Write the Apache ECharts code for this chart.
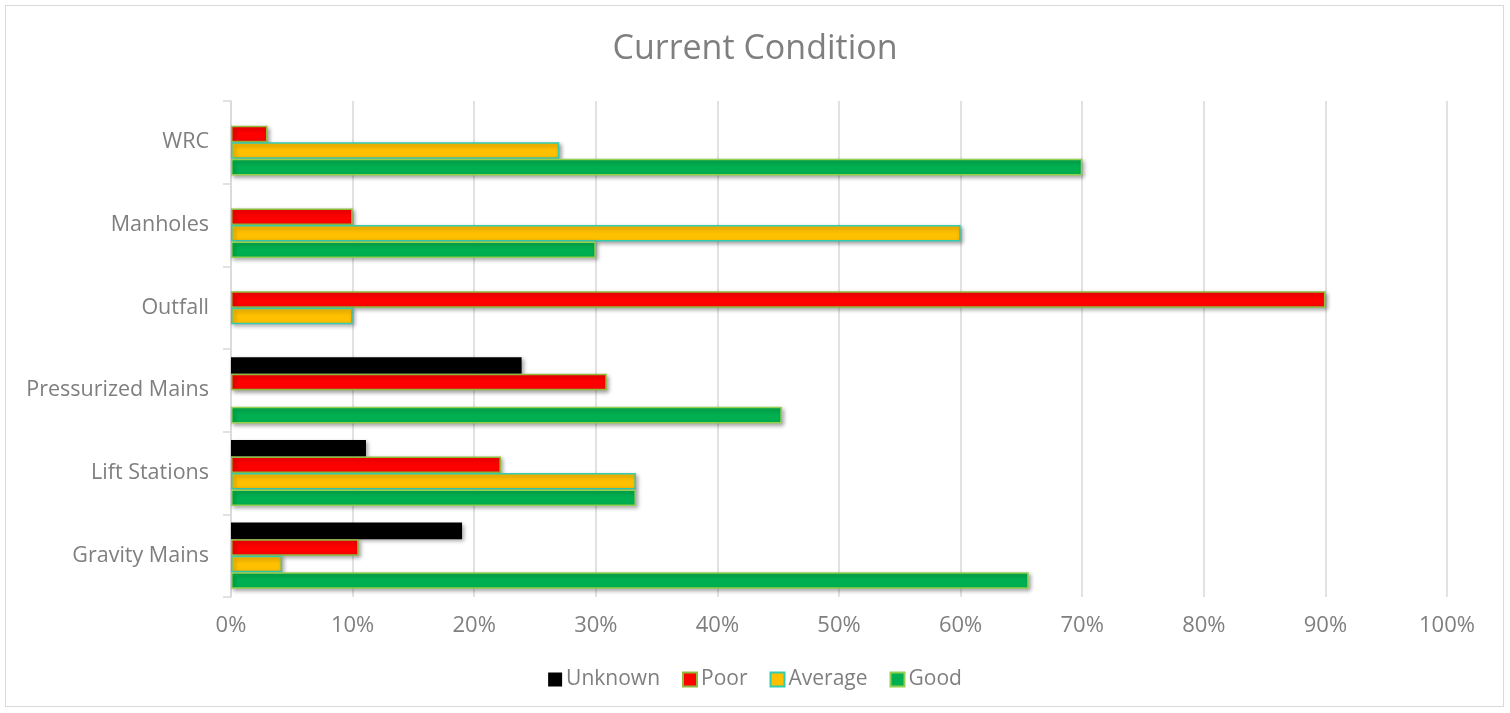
<!DOCTYPE html>
<html>
<head>
<meta charset="utf-8">
<script src="https://cdn.jsdelivr.net/npm/echarts@6/dist/echarts.min.js"></script>
<style>
html,body{margin:0;padding:0;background:#fff;}
#frame{position:absolute;left:5px;top:5px;width:1499px;height:702px;border:1.5px solid #d9d9d9;box-sizing:border-box;}
#chart{position:absolute;left:0;top:0;width:1510px;height:713px;}
</style>
</head>
<body>
<div id="frame"></div>
<div id="chart"></div>
<script>
const categories = ['Gravity Mains', 'Lift Stations', 'Pressurized Mains', 'Outfall', 'Manholes', 'WRC'];
const unknownValues = [19.0, 11.1, 23.9, null, null, null];
const poorValues = [10.5, 22.2, 30.9, 90, 10, 3];
const averageValues = [4.2, 33.3, null, 10, 60, 27];
const goodValues = [65.6, 33.3, 45.3, null, 30, 70];
const xTicks = [0, 10, 20, 30, 40, 50, 60, 70, 80, 90, 100];

const FONT = '"Open Sans", "Liberation Sans", sans-serif';
const TXT = '#7f7f7f';
const shadow = {shadowBlur: 4, shadowOffsetX: 2, shadowOffsetY: 2, shadowColor: 'rgba(0,0,0,0.35)'};

function mk(name, data, color, border) {
  return {
    name: name, type: 'bar', data: data,
    barGap: '0%', barCategoryGap: '20%',
    itemStyle: Object.assign({color: color, borderColor: border, borderWidth: border ? 1.5 : 0}, shadow),
    emphasis: {disabled: true}
  };
}

const chart = echarts.init(document.getElementById('chart'));
chart.setOption({
  animation: false,
  title: {
    text: 'Current Condition', left: 'center', top: 27,
    textStyle: {fontFamily: FONT, fontSize: 34, fontWeight: 'normal', color: TXT}
  },
  legend: {
    data: ['Unknown', 'Poor', 'Average', 'Good'],
    bottom: 18, left: 'center',
    itemWidth: 14, itemHeight: 14, itemGap: 22,
    icon: 'rect',
    textStyle: {fontFamily: FONT, fontSize: 21, color: TXT, padding: [0, 0, 0, -1]}
  },
  grid: {left: 231, right: 63, top: 101, bottom: 116, containLabel: false},
  xAxis: {
    type: 'value', min: 0, max: 100, interval: 10,
    axisLabel: {formatter: v => xTicks.includes(v) ? v + '%' : '', fontFamily: FONT, fontSize: 22, color: TXT, margin: 18},
    axisLine: {show: false}, axisTick: {show: false},
    splitLine: {show: true, lineStyle: {color: '#d9d9d9', width: 1.5}}
  },
  yAxis: {
    type: 'category', data: categories,
    axisLine: {show: true, lineStyle: {color: '#d9d9d9', width: 1.5}},
    axisTick: {show: true, length: 8, lineStyle: {color: '#d9d9d9', width: 1.5}},
    axisLabel: {fontFamily: FONT, fontSize: 21.5, color: TXT, margin: 22, padding: [3, 0, 0, 0]}
  },
  series: [
    mk('Unknown', unknownValues, '#000000', null),
    mk('Poor', poorValues, '#ff0000', '#8fba3c'),
    mk('Average', averageValues, '#ffc000', '#33ccb0'),
    mk('Good', goodValues, '#00b050', '#92d050')
  ]
});
</script>
</body>
</html>
